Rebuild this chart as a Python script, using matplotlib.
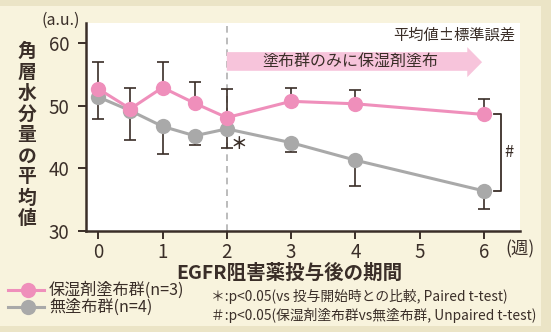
import matplotlib.pyplot as plt
from matplotlib.patches import Polygon, Rectangle
from matplotlib.lines import Line2D

plt.rcParams['font.family'] = ['Noto Sans CJK JP', 'DejaVu Sans']

# 角層水分量の平均値 (a.u.)
weeks = [0, 0.5, 1, 1.5, 2, 3, 4, 6]
moist_mean = [52.7, 49.5, 52.9, 50.4, 48.1, 50.7, 50.3, 48.6]
moist_se = [4.2, 3.4, 4.1, 3.4, 4.5, 2.2, 2.2, 2.5]
none_mean = [51.4, 49.2, 46.7, 45.2, 46.3, 44.1, 41.3, 36.4]
none_se = [3.6, 4.6, 4.4, 1.4, 3.0, 1.5, 4.1, 2.9]

xticks = [0, 1, 2, 3, 4, 5, 6]
yticks = [30, 40, 50, 60]

PINK = '#ef8fbb'
GRAY = '#a9a9a9'
DARK = '#3a2e28'
BG = '#f8f3dd'

fig = plt.figure(figsize=(5.51, 3.32), dpi=100)
fig.patch.set_facecolor('#ebe4c6')
fig.patches.append(Rectangle((0, 6 / 332), 541 / 551, 320 / 332,
                             transform=fig.transFigure, facecolor=BG,
                             edgecolor='none', zorder=-5))

ax = fig.add_axes([86 / 551, 101 / 332, 434 / 551, 208 / 332])
ax.set_facecolor('white')
ax.set_xlim(-0.19, 6.56)
ax.set_ylim(30, 63.2)

for s in ['top', 'right']:
    ax.spines[s].set_visible(False)
for s in ['left', 'bottom']:
    ax.spines[s].set_color(DARK)
    ax.spines[s].set_linewidth(1.8)

ax.set_xticks(xticks)
ax.set_yticks(yticks)
ax.tick_params(colors=DARK, width=1.4, length=6, labelsize=13.5, pad=2)
ax.tick_params(axis='y', pad=6)

# 投与開始2週目の区切り
ax.axvline(2, color='#b0b0b0', lw=1.2, ls=(0, (4, 3)), zorder=1)

# 片側の誤差棒: 保湿剤塗布群は上、無塗布群は下
ax.errorbar(weeks, moist_mean, yerr=[[0] * len(weeks), moist_se], fmt='none',
            ecolor=DARK, elinewidth=1.2, capsize=4, capthick=1.2, zorder=2)
ax.errorbar(weeks, none_mean, yerr=[none_se, [0] * len(weeks)], fmt='none',
            ecolor=DARK, elinewidth=1.2, capsize=4, capthick=1.2, zorder=2)

ax.plot(weeks, none_mean, color=GRAY, lw=2.2, marker='o', ms=11,
        markeredgewidth=0, zorder=3)
ax.plot(weeks, moist_mean, color=PINK, lw=2.2, marker='o', ms=11,
        markeredgewidth=0, zorder=4)

# 矢印の帯
arrow = Polygon([(2.0, 58.55), (5.74, 58.55), (5.74, 59.35), (5.97, 56.95),
                 (5.74, 54.56), (5.74, 55.57), (2.0, 55.57)],
                closed=True, facecolor='#f7c4db', edgecolor='none', zorder=1)
ax.add_patch(arrow)
ax.text(3.92, 57.0, '塗布群のみに保湿剤塗布', ha='center', va='center',
        fontsize=11.5, color=DARK, zorder=5)

ax.text(0.99, 0.94, '平均値±標準誤差', transform=ax.transAxes, ha='right',
        va='center', fontsize=11, color=DARK)

ax.text(2.06, none_mean[4] - 2.4, '＊', ha='left', va='center', fontsize=12,
        fontweight='bold', color=DARK)

# 6週目の群間比較
bx = 6.26
ax.plot([bx - 0.11, bx, bx, bx - 0.11],
        [moist_mean[-1], moist_mean[-1], none_mean[-1], none_mean[-1]],
        color=DARK, lw=1.3, zorder=2)
ax.text(bx + 0.06, (moist_mean[-1] + none_mean[-1]) / 2, '#', ha='left',
        va='center', fontsize=12, color=DARK)

# 軸ラベル
fig.text(61 / 551, 1 - 20 / 332, '(a.u.)', ha='center', va='center',
         fontsize=11.5, color=DARK)
for i, ch in enumerate('角層水分量の平均値'):
    fig.text(27 / 551, 1 - (51 + 21 * i) / 332, ch, ha='center', va='center',
             fontsize=13.5, fontweight='bold', color=DARK)
fig.text(520 / 551, 1 - 249 / 332, '(週)', ha='center', va='center',
         fontsize=12.5, color=DARK)
fig.text(289 / 551, 1 - 273 / 332, 'EGFR阻害薬投与後の期間', ha='center',
         va='center', fontsize=14, fontweight='bold', color=DARK)

# 凡例
for y, col, label in [(290, PINK, '保湿剤塗布群(n=3)'), (307, GRAY, '無塗布群(n=4)')]:
    fy = 1 - y / 332
    fig.lines.append(Line2D([8 / 551, 44 / 551], [fy, fy], color=col, lw=2.2,
                            transform=fig.transFigure))
    fig.lines.append(Line2D([28 / 551], [fy], color=col, marker='o', ms=11,
                            markeredgewidth=0, transform=fig.transFigure))
    fig.text(49 / 551, fy, label, ha='left', va='center', fontsize=11.6,
             color=DARK)

fig.text(211 / 551, 1 - 297 / 332, '＊:p<0.05(vs 投与開始時との比較, Paired t-test)',
         ha='left', va='center', fontsize=9.9, color=DARK)
fig.text(211 / 551, 1 - 315 / 332, '＃:p<0.05(保湿剤塗布群vs無塗布群, Unpaired t-test)',
         ha='left', va='center', fontsize=9.9, color=DARK)

fig.savefig('out.png', dpi=100, facecolor=fig.get_facecolor())
